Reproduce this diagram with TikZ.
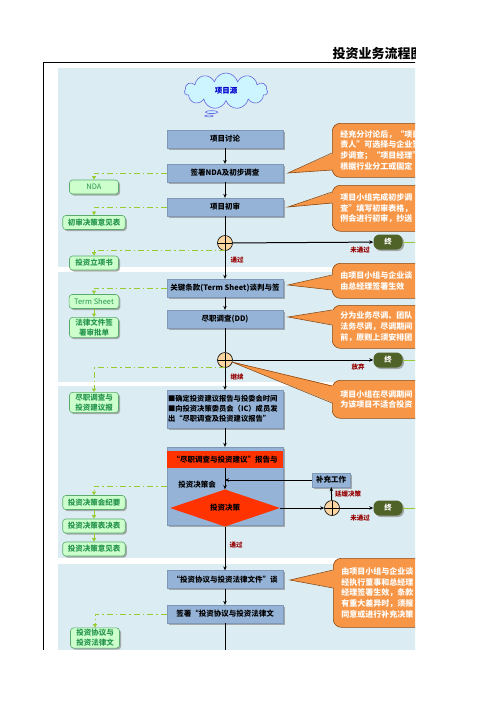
\documentclass[tikz,border=0pt]{standalone}
\usepackage{fontspec}
\setmainfont{Noto Sans CJK SC}
\definecolor{PanelBlue}{RGB}{219,237,243}
\definecolor{StepBlue}{RGB}{149,179,215}
\definecolor{NoteOrange}{RGB}{247,150,70}
\definecolor{NoteEdge}{RGB}{140,75,20}
\definecolor{DocGreen}{RGB}{204,255,204}
\definecolor{DocEdge}{RGB}{90,170,110}
\definecolor{DocText}{RGB}{40,150,80}
\definecolor{LinkGreen}{RGB}{153,204,51}
\definecolor{EndOlive}{RGB}{79,98,40}
\definecolor{LabelRed}{RGB}{150,0,0}
\definecolor{GatePeach}{RGB}{252,213,160}
\definecolor{DecideRed}{RGB}{255,51,0}
\definecolor{CloudFill}{RGB}{204,245,255}
\definecolor{CloudBlue}{RGB}{0,0,204}
\usepackage{tikz}
\usetikzlibrary{arrows.meta, shapes.geometric, shapes.callouts, shapes.symbols, shadows, calc}

\tikzset{
  shade box/.style={drop shadow={shadow xshift=1.5pt, shadow yshift=-1.5pt, fill=black!45, opacity=0.7}},
  stepbox/.style={fill=StepBlue, draw=StepBlue!85!black, line width=0.3pt,
    minimum width=116, minimum height=18, inner sep=1,
    font=\fontsize{7.5}{9}\selectfont\bfseries, shade box},
  docbox/.style={fill=DocGreen, draw=DocEdge, line width=0.6pt, rounded corners=3,
    minimum width=49, minimum height=14, inner xsep=5, inner ysep=1.5, align=center,
    text=DocText, font=\fontsize{7.5}{10}\selectfont\bfseries, shade box},
  notebox/.style={fill=NoteOrange, draw=NoteEdge, line width=0.6pt, rounded corners=8,
    anchor=north west, text width=100, inner xsep=8, inner ysep=3, align=left,
    text=white, font=\fontsize{8}{10.7}\selectfont\bfseries},
  endbox/.style={fill=EndOlive, rounded corners=6, minimum width=29, minimum height=15,
    inner sep=0, text=white, font=\fontsize{7.5}{9}\selectfont\bfseries, shade box},
  gate/.style={circle, draw, line width=0.6pt, fill=GatePeach, minimum size=15, inner sep=0,
    path picture={\draw[line width=0.6pt] (path picture bounding box.north) -- (path picture bounding box.south)
      (path picture bounding box.west) -- (path picture bounding box.east);}},
  tag/.style={text=LabelRed, font=\fontsize{6.5}{8}\selectfont\bfseries},
  flow/.style={line width=1pt, -{Stealth[length=4pt, width=3.5pt]}},
  flowlink/.style={LinkGreen, line width=1pt, dash pattern=on 6pt off 3pt on 1.5pt off 3pt,
    -{Triangle[length=3.5pt, width=4pt]}},
  doclink/.style={LinkGreen, line width=1pt, -{Triangle[length=3.5pt, width=4pt]}},
  wedge/.style={NoteEdge, line width=0.6pt}
}

\begin{document}
\begin{tikzpicture}[x=1pt, y=-1pt]
  \useasboundingbox (0,0) rectangle (496,702);
  \begin{scope}
    \clip (0,0) rectangle (415,649);

    % Title and frame
    \node[anchor=west, font=\fontsize{13}{15}\selectfont\bfseries] (Title) at (329,54) {投资业务流程图};
    \draw[line width=0.9pt] (43,62) -- (430,62);
    \draw[line width=0.9pt] (43,62) -- (43,660);

    % Stage panels
    \fill[PanelBlue] (58,68) rectangle (430,267);
    \fill[PanelBlue] (58,272) rectangle (430,382);
    \fill[PanelBlue] (58,386) rectangle (430,558);
    \fill[PanelBlue] (58,564) rectangle (430,660);

    % Project source
    \node[cloud callout, cloud puffs=11, aspect=2.3, minimum width=83, minimum height=36,
          draw=CloudBlue!60, line width=0.6pt, fill=CloudFill, inner sep=0,
          callout absolute pointer={(209,116)},
          text=CloudBlue, font=\fontsize{7.5}{9}\selectfont\bfseries]
          (Src) at (226,91) {项目源};

    % Main steps
    \node[stepbox] (B1) at (225,139) {项目讨论};
    \node[stepbox] (B2) at (225,173) {签署NDA及初步调查};
    \node[stepbox] (B3) at (225,207) {项目初审};
    \node[gate] (G1) at (225,243) {};
    \node[stepbox] (B4) at (225,288) {关键条款(Term Sheet)谈判与签};
    \node[stepbox] (B5) at (225,319) {尽职调查(DD)};
    \node[gate] (G2) at (225,360) {};
    \node[stepbox, text width=114, align=left, minimum height=38,
          font=\fontsize{7.3}{10}\selectfont\bfseries] (B6) at (225,409)
          {■确定投资建议报告与投委会时间\\■向投资决策委员会（IC）成员发\\出“尽职调查及投资建议报告”};

    % Decision meeting
    \node[stepbox, minimum height=78] (Board) at (225,486) {};
    \node[fill=DecideRed, minimum width=116, minimum height=17, inner sep=0,
          font=\fontsize{7.5}{9}\selectfont\bfseries] (Band) at (225,459.5) {“尽职调查与投资建议”报告与};
    \node[font=\fontsize{7.5}{9}\selectfont\bfseries] (BoardLbl) at (197,485) {投资决策会};
    \node[diamond, fill=DecideRed, minimum width=110, minimum height=22, inner sep=0,
          font=\fontsize{7.5}{9}\selectfont\bfseries] (Dec) at (225,508) {投资决策};
    \node[stepbox, minimum width=38, minimum height=14] (Extra) at (331,480) {补充工作};
    \node[gate] (G3) at (332,508) {};

    \node[stepbox] (B8) at (225,579.5) {“投资协议与投资法律文件”谈};
    \node[stepbox] (B9) at (225,614) {签署“投资协议与投资法律文};

    % End points
    \node[endbox] (End1) at (388,242) {终};
    \node[endbox] (End2) at (388,360) {终};
    \node[endbox] (End3) at (388,508) {终};
    \coordinate (Off1) at (430,242);
    \coordinate (Off2) at (430,360);
    \coordinate (Off3) at (430,508);
    \coordinate (Out) at (225,660);
    \coordinate (Join) at (Dec.north |- Extra.west);

    % Main flow
    \draw[flow] (B1) -- (B2);
    \draw[flow] (B2) -- (B3);
    \draw[line width=1pt] (B3) -- (G1);
    \draw[flow] (G1) -- (B4);
    \draw[flow] (B4) -- (B5);
    \draw[line width=1pt] (B5) -- (G2);
    \draw[flow] (G2) -- (B6);
    \draw[flow] (B6) -- (Board);
    \draw[flow] (Band.south) -- (Dec.north);
    \draw[flow] (Extra.west) -- (Join);
    \draw[flow] (Dec.east) -- (G3);
    \draw[flow] (G3) -- (Extra);
    \draw[flow] (Dec.south) -- (B8);
    \draw[flow] (B8) -- (B9);
    \draw[line width=1pt] (B9) -- (Out);
    \draw[flow] (G1) -- (End1);
    \draw[flow] (G2) -- (End2);
    \draw[flow] (G3) -- (End3);
    \draw[LinkGreen, line width=1pt] (End1) -- (Off1);
    \draw[LinkGreen, line width=1pt] (End2) -- (Off2);
    \draw[LinkGreen, line width=1pt] (End3) -- (Off3);

    % Branch labels
    \node[tag] (Pass1) at (237,260) {通过};
    \node[tag] (Fail1) at (360,250) {未通过};
    \node[tag] (Go2) at (237,377) {继续};
    \node[tag] (Drop2) at (358,367) {放弃};
    \node[tag] (Delay3) at (348,494) {延缓决策};
    \node[tag] (Fail3) at (360,518) {未通过};
    \node[tag] (Pass3) at (236,545) {通过};

    % Documents
    \node[docbox, font=\fontsize{7.5}{10}\selectfont] (L1) at (94,187) {NDA};
    \node[docbox] (L2) at (94,222.5) {初审决策意见表};
    \node[docbox] (L3) at (94,263) {投资立项书};
    \node[docbox, font=\fontsize{7.5}{10}\selectfont] (L4) at (94,301.5) {Term Sheet};
    \node[docbox] (L5) at (94,327.5) {法律文件签\\署审批单};
    \node[docbox] (L6) at (94,402.5) {尽职调查与\\投资建议报};
    \node[docbox] (L7) at (94,502.5) {投资决策会纪要};
    \node[docbox] (L8) at (94,526) {投资决策表决表};
    \node[docbox] (L9) at (94,549) {投资决策意见表};
    \node[docbox] (L10) at (95,638) {投资协议与\\投资法律文};

    \draw[flowlink] (B2.west) -| (L1.north);
    \draw[flowlink] (B3.west) -| (L2.north);
    \draw[flowlink] (G1.south) -| (L3.north);
    \draw[flowlink] (B4.west) -| (L4.north);
    \draw[doclink] (L4) -- (L5);
    \draw[flowlink] (G2.south) -| (L6.north);
    \draw[flowlink] (Board.west) -| (L7.north);
    \draw[doclink] (L7) -- (L8);
    \draw[doclink] (L8) -- (L9);
    \draw[flowlink] (B9.west) -| (L10.north);

    % Notes
    \node[notebox, minimum height=54] (C1) at (332,123)
      {经充分讨论后，“项目负\\责人”可选择与企业签\\步调查；“项目经理”\\根据行业分工或固定};
    \node[notebox, minimum height=46] (C2) at (332,185)
      {项目小组完成初步调\\查”填写初审表格，\\例会进行初审，抄送};
    \node[notebox, minimum height=35] (C3) at (332,263)
      {由项目小组与企业谈\\由总经理签署生效};
    \node[notebox, minimum height=43] (C4) at (332,305)
      {分为业务尽调、团队\\法务尽调，尽调期间\\前，原则上须安排团};
    \node[notebox, minimum height=38] (C5) at (332,380)
      {项目小组在尽调期间\\为该项目不适合投资};
    \node[notebox, minimum height=69] (C6) at (333,558)
      {由项目小组与企业谈\\经执行董事和总经理\\经理签署生效，条款\\有重大差异时，须报\\同意或进行补充决策};

    \coordinate (T1) at (288,173);
    \coordinate (T2) at (288,207);
    \coordinate (T3) at (288,285);
    \coordinate (T4) at (288,317);
    \coordinate (T5) at (232,362);
    \coordinate (T6) at (290,580);

    \fill[NoteOrange] ($(C1.north west)+(2,30)$) -- (T1) -- ($(C1.north west)+(2,47)$) -- cycle;
    \draw[wedge] ($(C1.north west)+(0,30)$) -- (T1) -- ($(C1.north west)+(0,47)$);
    \fill[NoteOrange] ($(C2.north west)+(2,7)$) -- (T2) -- ($(C2.north west)+(2,18)$) -- cycle;
    \draw[wedge] ($(C2.north west)+(0,7)$) -- (T2) -- ($(C2.north west)+(0,18)$);
    \fill[NoteOrange] ($(C3.north west)+(2,12)$) -- (T3) -- ($(C3.north west)+(2,27)$) -- cycle;
    \draw[wedge] ($(C3.north west)+(0,12)$) -- (T3) -- ($(C3.north west)+(0,27)$);
    \fill[NoteOrange] ($(C4.north west)+(2,5)$) -- (T4) -- ($(C4.north west)+(2,20)$) -- cycle;
    \draw[wedge] ($(C4.north west)+(0,5)$) -- (T4) -- ($(C4.north west)+(0,20)$);
    \fill[NoteOrange] ($(C5.north west)+(2,6)$) -- (T5) -- ($(C5.north west)+(2,23)$) -- cycle;
    \draw[wedge] ($(C5.north west)+(0,6)$) -- (T5) -- ($(C5.north west)+(0,23)$);
    \fill[NoteOrange] ($(C6.north west)+(2,12)$) -- (T6) -- ($(C6.north west)+(2,30)$) -- cycle;
    \draw[wedge] ($(C6.north west)+(0,12)$) -- (T6) -- ($(C6.north west)+(0,30)$);
  \end{scope}
\end{tikzpicture}
\end{document}
